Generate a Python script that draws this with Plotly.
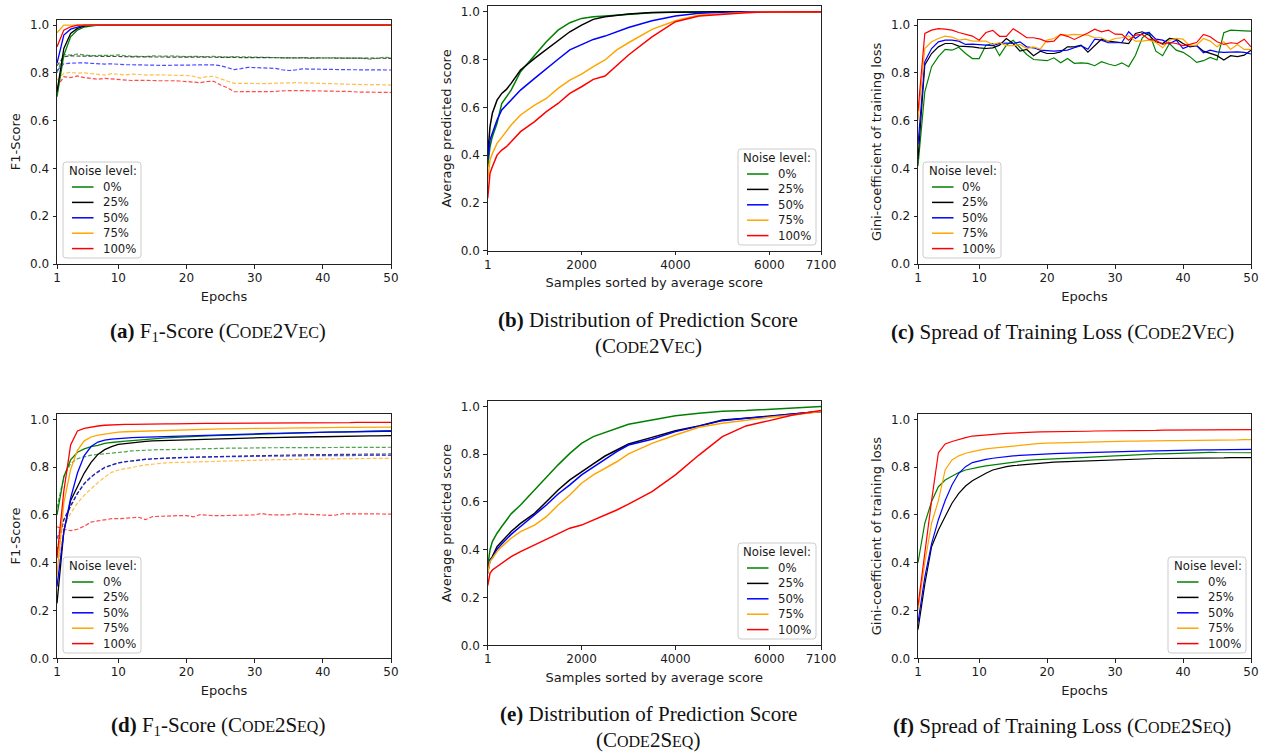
import plotly.graph_objects as go

# ---------------- data ----------------
NOISE_LEVELS = ["0%", "25%", "50%", "75%", "100%"]
EPOCHS = list(range(1, 51))
SAMPLES = [1, 50, 100, 200, 300, 400, 500, 700, 1000, 1250, 1500, 1750, 2000, 2250,
           2500, 2750, 3000, 3500, 4000, 4500, 5000, 5500, 6000, 6500, 7100]
EPOCH_TICKS = [1, 10, 20, 30, 40, 50]
SAMPLE_TICKS = [1, 2000, 4000, 6000, 7100]
Y_TICKS = [0.0, 0.2, 0.4, 0.6, 0.8, 1.0]

# (a) F1-score Code2Vec: training (solid) and validation (dashed)
c2v_f1_train_0 = [0.70, 0.874, 0.951, 0.979, 0.992, 0.997, 1.0, 1.0, 1.0, 1.0,
                  1.0, 1.0, 1.0, 1.0, 1.0, 1.0, 1.0, 1.0, 1.0, 1.0,
                  1.0, 1.0, 1.0, 1.0, 1.0, 1.0, 1.0, 1.0, 1.0, 1.0,
                  1.0, 1.0, 1.0, 1.0, 1.0, 1.0, 1.0, 1.0, 1.0, 1.0,
                  1.0, 1.0, 1.0, 1.0, 1.0, 1.0, 1.0, 1.0, 1.0, 1.0]
c2v_f1_train_25 = [0.72, 0.902, 0.965, 0.986, 0.996, 1.0, 1.0, 1.0, 1.0, 1.0,
                   1.0, 1.0, 1.0, 1.0, 1.0, 1.0, 1.0, 1.0, 1.0, 1.0,
                   1.0, 1.0, 1.0, 1.0, 1.0, 1.0, 1.0, 1.0, 1.0, 1.0,
                   1.0, 1.0, 1.0, 1.0, 1.0, 1.0, 1.0, 1.0, 1.0, 1.0,
                   1.0, 1.0, 1.0, 1.0, 1.0, 1.0, 1.0, 1.0, 1.0, 1.0]
c2v_f1_train_50 = [0.84, 0.958, 0.983, 0.993, 1.0, 1.0, 1.0, 1.0, 1.0, 1.0,
                   1.0, 1.0, 1.0, 1.0, 1.0, 1.0, 1.0, 1.0, 1.0, 1.0,
                   1.0, 1.0, 1.0, 1.0, 1.0, 1.0, 1.0, 1.0, 1.0, 1.0,
                   1.0, 1.0, 1.0, 1.0, 1.0, 1.0, 1.0, 1.0, 1.0, 1.0,
                   1.0, 1.0, 1.0, 1.0, 1.0, 1.0, 1.0, 1.0, 1.0, 1.0]
c2v_f1_train_75 = [0.968, 1.0, 1.0, 1.0, 1.0, 1.0, 1.0, 1.0, 1.0, 1.0,
                   1.0, 1.0, 1.0, 1.0, 1.0, 1.0, 1.0, 1.0, 1.0, 1.0,
                   1.0, 1.0, 1.0, 1.0, 1.0, 1.0, 1.0, 1.0, 1.0, 1.0,
                   1.0, 1.0, 1.0, 1.0, 1.0, 1.0, 1.0, 1.0, 1.0, 1.0,
                   1.0, 1.0, 1.0, 1.0, 1.0, 1.0, 1.0, 1.0, 1.0, 1.0]
c2v_f1_train_100 = [0.909, 0.979, 0.993, 1.0, 1.0, 1.0, 1.0, 1.0, 1.0, 1.0,
                    1.0, 1.0, 1.0, 1.0, 1.0, 1.0, 1.0, 1.0, 1.0, 1.0,
                    1.0, 1.0, 1.0, 1.0, 1.0, 1.0, 1.0, 1.0, 1.0, 1.0,
                    1.0, 1.0, 1.0, 1.0, 1.0, 1.0, 1.0, 1.0, 1.0, 1.0,
                    1.0, 1.0, 1.0, 1.0, 1.0, 1.0, 1.0, 1.0, 1.0, 1.0]
c2v_f1_val_0 = [0.80, 0.877, 0.874, 0.879, 0.875, 0.872, 0.873, 0.872, 0.873, 0.875,
                0.871, 0.869, 0.870, 0.868, 0.871, 0.869, 0.870, 0.871, 0.869, 0.868,
                0.869, 0.867, 0.868, 0.869, 0.867, 0.866, 0.868, 0.867, 0.866, 0.867,
                0.865, 0.866, 0.864, 0.862, 0.863, 0.862, 0.864, 0.861, 0.862, 0.863,
                0.862, 0.863, 0.862, 0.863, 0.862, 0.861, 0.857, 0.862, 0.865, 0.864]
c2v_f1_val_25 = [0.83, 0.868, 0.871, 0.870, 0.869, 0.869, 0.870, 0.869, 0.869, 0.870,
                 0.868, 0.867, 0.867, 0.867, 0.868, 0.867, 0.867, 0.867, 0.866, 0.866,
                 0.866, 0.866, 0.866, 0.866, 0.865, 0.865, 0.865, 0.864, 0.864, 0.864,
                 0.863, 0.863, 0.861, 0.862, 0.862, 0.862, 0.862, 0.862, 0.861, 0.861,
                 0.861, 0.861, 0.861, 0.861, 0.861, 0.861, 0.861, 0.861, 0.861, 0.861]
c2v_f1_val_50 = [0.81, 0.838, 0.841, 0.843, 0.842, 0.840, 0.838, 0.837, 0.838, 0.835,
                 0.834, 0.834, 0.833, 0.832, 0.833, 0.832, 0.831, 0.832, 0.832, 0.831,
                 0.831, 0.831, 0.832, 0.834, 0.830, 0.821, 0.814, 0.818, 0.823, 0.822,
                 0.822, 0.821, 0.819, 0.813, 0.810, 0.812, 0.817, 0.816, 0.815, 0.814,
                 0.814, 0.814, 0.813, 0.813, 0.813, 0.813, 0.812, 0.812, 0.812, 0.812]
c2v_f1_val_75 = [0.77, 0.798, 0.802, 0.799, 0.800, 0.797, 0.794, 0.791, 0.797, 0.795,
                 0.791, 0.795, 0.792, 0.791, 0.792, 0.790, 0.791, 0.790, 0.790, 0.789,
                 0.786, 0.778, 0.784, 0.786, 0.775, 0.764, 0.756, 0.756, 0.755, 0.756,
                 0.756, 0.755, 0.757, 0.759, 0.758, 0.759, 0.758, 0.756, 0.756, 0.755,
                 0.755, 0.753, 0.752, 0.752, 0.751, 0.751, 0.750, 0.751, 0.750, 0.749]
c2v_f1_val_100 = [0.74, 0.784, 0.780, 0.787, 0.780, 0.775, 0.773, 0.777, 0.774, 0.774,
                  0.770, 0.768, 0.769, 0.767, 0.768, 0.767, 0.768, 0.767, 0.766, 0.764,
                  0.763, 0.759, 0.764, 0.765, 0.749, 0.738, 0.721, 0.721, 0.721, 0.722,
                  0.721, 0.722, 0.722, 0.725, 0.726, 0.725, 0.726, 0.725, 0.725, 0.724,
                  0.724, 0.723, 0.722, 0.722, 0.720, 0.720, 0.720, 0.719, 0.719, 0.718]

# (b) distribution of prediction score, Code2Vec
c2v_dist_0 = [0.35, 0.435, 0.477, 0.533, 0.616, 0.644, 0.672, 0.749, 0.819, 0.874, 0.923, 0.954,
              0.972, 0.979, 0.982, 0.986, 0.990, 0.996, 0.999, 1.0, 1.0, 1.0, 1.0, 1.0, 1.0]
c2v_dist_25 = [0.40, 0.519, 0.575, 0.630, 0.658, 0.675, 0.700, 0.756, 0.805, 0.842, 0.881, 0.916,
               0.944, 0.968, 0.979, 0.985, 0.990, 0.997, 0.999, 1.0, 1.0, 1.0, 1.0, 1.0, 1.0]
c2v_dist_50 = [0.38, 0.463, 0.491, 0.547, 0.589, 0.609, 0.628, 0.672, 0.721, 0.763, 0.801, 0.840,
               0.861, 0.884, 0.898, 0.916, 0.934, 0.962, 0.982, 0.993, 0.997, 1.0, 1.0, 1.0, 1.0]
c2v_dist_75 = [0.30, 0.379, 0.407, 0.449, 0.474, 0.498, 0.526, 0.568, 0.609, 0.637, 0.679, 0.714,
               0.739, 0.770, 0.798, 0.840, 0.870, 0.926, 0.962, 0.986, 0.993, 0.997, 0.999, 1.0, 1.0]
c2v_dist_100 = [0.22, 0.324, 0.351, 0.400, 0.421, 0.435, 0.456, 0.498, 0.540, 0.582, 0.616, 0.658,
                0.686, 0.717, 0.731, 0.777, 0.819, 0.895, 0.958, 0.982, 0.990, 0.996, 0.999, 1.0, 1.0]

# (c) Gini coefficient of training loss, Code2Vec
c2v_gini_0 = [0.41, 0.721, 0.826, 0.868, 0.898, 0.895, 0.907, 0.881, 0.860, 0.860,
              0.916, 0.923, 0.872, 0.916, 0.936, 0.905, 0.877, 0.856, 0.854, 0.851,
              0.863, 0.842, 0.860, 0.840, 0.842, 0.840, 0.830, 0.847, 0.837, 0.830,
              0.842, 0.826, 0.874, 0.947, 0.969, 0.891, 0.872, 0.923, 0.895, 0.886,
              0.868, 0.844, 0.851, 0.865, 0.854, 0.968, 0.979, 0.976, 0.976, 0.975]
c2v_gini_25 = [0.44, 0.833, 0.881, 0.909, 0.923, 0.923, 0.912, 0.912, 0.909, 0.905,
               0.902, 0.905, 0.916, 0.944, 0.923, 0.891, 0.898, 0.872, 0.891, 0.881,
               0.881, 0.888, 0.909, 0.909, 0.916, 0.887, 0.914, 0.941, 0.933, 0.930,
               0.927, 0.923, 0.965, 0.972, 0.958, 0.930, 0.923, 0.944, 0.941, 0.923,
               0.909, 0.914, 0.891, 0.881, 0.872, 0.854, 0.872, 0.868, 0.874, 0.895]
c2v_gini_50 = [0.50, 0.847, 0.902, 0.930, 0.937, 0.937, 0.933, 0.919, 0.920, 0.919,
               0.916, 0.914, 0.923, 0.925, 0.923, 0.930, 0.909, 0.905, 0.895, 0.893,
               0.891, 0.893, 0.895, 0.905, 0.914, 0.899, 0.941, 0.937, 0.926, 0.926,
               0.927, 0.972, 0.944, 0.965, 0.969, 0.941, 0.937, 0.923, 0.937, 0.902,
               0.914, 0.914, 0.884, 0.895, 0.888, 0.886, 0.888, 0.888, 0.886, 0.879]
c2v_gini_75 = [0.60, 0.902, 0.930, 0.944, 0.954, 0.950, 0.937, 0.941, 0.933, 0.933,
               0.933, 0.919, 0.927, 0.914, 0.914, 0.919, 0.902, 0.909, 0.900, 0.937,
               0.944, 0.961, 0.958, 0.961, 0.961, 0.958, 0.947, 0.947, 0.933, 0.944,
               0.947, 0.955, 0.933, 0.933, 0.937, 0.927, 0.905, 0.937, 0.944, 0.941,
               0.914, 0.916, 0.944, 0.933, 0.909, 0.930, 0.898, 0.919, 0.898, 0.898]
c2v_gini_100 = [0.64, 0.965, 0.979, 0.985, 0.983, 0.979, 0.969, 0.961, 0.954, 0.937,
                0.969, 0.978, 0.953, 0.953, 0.985, 0.967, 0.947, 0.947, 0.941, 0.930,
                0.933, 0.961, 0.953, 0.940, 0.953, 0.967, 0.983, 0.972, 0.979, 0.962,
                0.961, 0.937, 0.958, 0.961, 0.940, 0.937, 0.919, 0.927, 0.923, 0.914,
                0.919, 0.927, 0.961, 0.951, 0.930, 0.919, 0.926, 0.923, 0.941, 0.909]

# (d) F1-score Code2Seq
c2s_f1_train_0 = [0.60, 0.760, 0.830, 0.862, 0.876, 0.886, 0.891, 0.899, 0.903, 0.907,
                  0.909, 0.911, 0.914, 0.916, 0.918, 0.920, 0.922, 0.924, 0.926, 0.928,
                  0.929, 0.930, 0.931, 0.932, 0.933, 0.934, 0.935, 0.936, 0.937, 0.938,
                  0.939, 0.940, 0.941, 0.941, 0.942, 0.943, 0.944, 0.944, 0.945, 0.946,
                  0.946, 0.947, 0.947, 0.948, 0.949, 0.949, 0.950, 0.951, 0.951, 0.952]
c2s_f1_train_25 = [0.23, 0.530, 0.660, 0.720, 0.775, 0.820, 0.853, 0.873, 0.886, 0.895,
                   0.899, 0.903, 0.906, 0.908, 0.910, 0.911, 0.912, 0.913, 0.914, 0.915,
                   0.916, 0.917, 0.917, 0.918, 0.919, 0.919, 0.920, 0.921, 0.921, 0.922,
                   0.923, 0.923, 0.924, 0.924, 0.925, 0.926, 0.926, 0.926, 0.927, 0.927,
                   0.928, 0.928, 0.929, 0.929, 0.930, 0.930, 0.931, 0.931, 0.932, 0.932]
c2s_f1_train_50 = [0.30, 0.530, 0.670, 0.775, 0.848, 0.886, 0.905, 0.913, 0.917, 0.920,
                   0.921, 0.923, 0.924, 0.925, 0.927, 0.928, 0.929, 0.930, 0.931, 0.932,
                   0.933, 0.934, 0.934, 0.935, 0.936, 0.937, 0.937, 0.938, 0.939, 0.940,
                   0.940, 0.941, 0.941, 0.942, 0.943, 0.943, 0.944, 0.944, 0.945, 0.945,
                   0.946, 0.946, 0.947, 0.947, 0.948, 0.948, 0.949, 0.949, 0.950, 0.950]
c2s_f1_train_75 = [0.35, 0.650, 0.790, 0.870, 0.910, 0.926, 0.934, 0.939, 0.943, 0.946,
                   0.948, 0.949, 0.951, 0.952, 0.953, 0.954, 0.955, 0.956, 0.956, 0.957,
                   0.958, 0.958, 0.959, 0.959, 0.960, 0.960, 0.961, 0.961, 0.961, 0.962,
                   0.962, 0.962, 0.963, 0.963, 0.963, 0.964, 0.964, 0.964, 0.965, 0.965,
                   0.965, 0.965, 0.966, 0.966, 0.966, 0.966, 0.967, 0.967, 0.967, 0.967]
c2s_f1_train_100 = [0.42, 0.700, 0.893, 0.951, 0.962, 0.968, 0.972, 0.975, 0.977, 0.978,
                    0.979, 0.979, 0.980, 0.980, 0.980, 0.981, 0.981, 0.981, 0.982, 0.982,
                    0.982, 0.982, 0.983, 0.983, 0.983, 0.983, 0.984, 0.984, 0.984, 0.984,
                    0.984, 0.985, 0.985, 0.985, 0.985, 0.985, 0.985, 0.986, 0.986, 0.986,
                    0.986, 0.986, 0.986, 0.986, 0.987, 0.987, 0.987, 0.987, 0.987, 0.987]
c2s_f1_val_0 = [0.63, 0.760, 0.815, 0.835, 0.843, 0.850, 0.853, 0.855, 0.857, 0.860,
                0.864, 0.868, 0.870, 0.872, 0.872, 0.873, 0.873, 0.874, 0.874, 0.874,
                0.875, 0.875, 0.876, 0.877, 0.878, 0.879, 0.879, 0.880, 0.880, 0.880,
                0.881, 0.881, 0.881, 0.881, 0.882, 0.882, 0.882, 0.882, 0.882, 0.882,
                0.883, 0.883, 0.883, 0.883, 0.883, 0.883, 0.883, 0.883, 0.883, 0.883]
c2s_f1_val_25 = [0.45, 0.580, 0.635, 0.690, 0.732, 0.760, 0.781, 0.799, 0.809, 0.818,
                 0.823, 0.827, 0.830, 0.833, 0.835, 0.837, 0.838, 0.839, 0.840, 0.841,
                 0.842, 0.843, 0.844, 0.844, 0.845, 0.846, 0.846, 0.847, 0.847, 0.848,
                 0.848, 0.849, 0.849, 0.850, 0.850, 0.851, 0.851, 0.852, 0.852, 0.852,
                 0.853, 0.853, 0.853, 0.854, 0.854, 0.854, 0.854, 0.855, 0.855, 0.855]
c2s_f1_val_50 = [0.50, 0.580, 0.640, 0.690, 0.730, 0.758, 0.779, 0.797, 0.808, 0.817,
                 0.822, 0.826, 0.829, 0.832, 0.834, 0.836, 0.837, 0.838, 0.839, 0.840,
                 0.841, 0.841, 0.842, 0.842, 0.843, 0.843, 0.844, 0.844, 0.845, 0.845,
                 0.845, 0.846, 0.846, 0.846, 0.847, 0.847, 0.847, 0.847, 0.848, 0.848,
                 0.848, 0.848, 0.848, 0.849, 0.849, 0.849, 0.849, 0.849, 0.849, 0.849]
c2s_f1_val_75 = [0.35, 0.550, 0.607, 0.649, 0.683, 0.711, 0.735, 0.758, 0.778, 0.788,
                 0.794, 0.799, 0.804, 0.809, 0.812, 0.816, 0.818, 0.819, 0.820, 0.821,
                 0.822, 0.822, 0.823, 0.823, 0.824, 0.825, 0.826, 0.827, 0.828, 0.829,
                 0.830, 0.830, 0.831, 0.831, 0.832, 0.832, 0.833, 0.833, 0.834, 0.834,
                 0.834, 0.835, 0.835, 0.835, 0.836, 0.836, 0.836, 0.837, 0.837, 0.837]
c2s_f1_val_100 = [0.55, 0.540, 0.534, 0.540, 0.553, 0.570, 0.575, 0.580, 0.584, 0.584,
                  0.585, 0.586, 0.590, 0.580, 0.593, 0.594, 0.596, 0.598, 0.597, 0.597,
                  0.592, 0.601, 0.598, 0.597, 0.597, 0.598, 0.597, 0.598, 0.599, 0.600,
                  0.606, 0.601, 0.600, 0.601, 0.600, 0.605, 0.603, 0.602, 0.601, 0.600,
                  0.598, 0.600, 0.605, 0.604, 0.603, 0.604, 0.604, 0.604, 0.604, 0.603]

# (e) distribution of prediction score, Code2Seq
c2s_dist_0 = [0.33, 0.399, 0.434, 0.469, 0.497, 0.524, 0.550, 0.587, 0.650, 0.706, 0.755, 0.803,
              0.845, 0.873, 0.890, 0.908, 0.925, 0.943, 0.960, 0.971, 0.979, 0.982, 0.987, 0.994, 0.999]
c2s_dist_25 = [0.31, 0.357, 0.371, 0.413, 0.434, 0.455, 0.476, 0.510, 0.552, 0.601, 0.650, 0.692,
               0.727, 0.759, 0.792, 0.817, 0.842, 0.870, 0.898, 0.918, 0.943, 0.950, 0.960, 0.968, 0.978]
c2s_dist_50 = [0.30, 0.357, 0.364, 0.402, 0.424, 0.444, 0.464, 0.497, 0.545, 0.587, 0.633, 0.671,
               0.713, 0.745, 0.775, 0.810, 0.838, 0.862, 0.894, 0.918, 0.940, 0.950, 0.957, 0.968, 0.978]
c2s_dist_75 = [0.30, 0.350, 0.364, 0.392, 0.413, 0.430, 0.448, 0.476, 0.503, 0.538, 0.587, 0.629,
               0.678, 0.713, 0.741, 0.768, 0.801, 0.845, 0.880, 0.912, 0.929, 0.943, 0.954, 0.964, 0.978]
c2s_dist_100 = [0.25, 0.301, 0.315, 0.329, 0.343, 0.357, 0.371, 0.392, 0.420, 0.444, 0.469, 0.490,
                0.503, 0.524, 0.545, 0.566, 0.591, 0.643, 0.713, 0.796, 0.873, 0.918, 0.940, 0.964, 0.982]

# (f) Gini coefficient of training loss, Code2Seq
c2s_gini_0 = [0.40, 0.565, 0.656, 0.718, 0.746, 0.763, 0.777, 0.788, 0.795, 0.800,
              0.805, 0.809, 0.812, 0.819, 0.822, 0.826, 0.828, 0.830, 0.832, 0.833,
              0.835, 0.836, 0.838, 0.839, 0.840, 0.842, 0.843, 0.844, 0.846, 0.847,
              0.848, 0.850, 0.851, 0.852, 0.854, 0.855, 0.855, 0.856, 0.857, 0.858,
              0.859, 0.861, 0.863, 0.862, 0.861, 0.861, 0.860, 0.860, 0.860, 0.860]
c2s_gini_25 = [0.12, 0.310, 0.467, 0.537, 0.593, 0.649, 0.690, 0.721, 0.743, 0.760,
               0.774, 0.788, 0.796, 0.802, 0.806, 0.809, 0.812, 0.815, 0.817, 0.819,
               0.821, 0.822, 0.823, 0.825, 0.826, 0.827, 0.828, 0.830, 0.831, 0.833,
               0.833, 0.834, 0.834, 0.835, 0.835, 0.836, 0.836, 0.836, 0.837, 0.837,
               0.838, 0.838, 0.838, 0.839, 0.839, 0.839, 0.840, 0.840, 0.840, 0.840]
c2s_gini_50 = [0.15, 0.340, 0.480, 0.580, 0.660, 0.725, 0.774, 0.802, 0.819, 0.827,
               0.832, 0.837, 0.841, 0.844, 0.847, 0.849, 0.851, 0.852, 0.854, 0.855,
               0.856, 0.857, 0.858, 0.860, 0.861, 0.862, 0.863, 0.863, 0.864, 0.865,
               0.865, 0.866, 0.867, 0.867, 0.868, 0.868, 0.869, 0.869, 0.870, 0.870,
               0.871, 0.871, 0.872, 0.872, 0.872, 0.873, 0.873, 0.873, 0.874, 0.874]
c2s_gini_75 = [0.20, 0.400, 0.565, 0.660, 0.788, 0.830, 0.847, 0.858, 0.865, 0.872,
               0.876, 0.879, 0.883, 0.886, 0.888, 0.891, 0.894, 0.898, 0.899, 0.900,
               0.901, 0.902, 0.903, 0.904, 0.905, 0.906, 0.907, 0.907, 0.908, 0.908,
               0.909, 0.909, 0.909, 0.910, 0.910, 0.910, 0.911, 0.911, 0.911, 0.911,
               0.912, 0.912, 0.913, 0.913, 0.913, 0.914, 0.914, 0.914, 0.915, 0.915]
c2s_gini_100 = [0.22, 0.450, 0.660, 0.860, 0.897, 0.907, 0.916, 0.923, 0.930, 0.933,
                0.935, 0.937, 0.939, 0.941, 0.943, 0.944, 0.945, 0.946, 0.947, 0.947,
                0.948, 0.948, 0.949, 0.949, 0.950, 0.950, 0.951, 0.951, 0.952, 0.953,
                0.953, 0.953, 0.954, 0.954, 0.954, 0.954, 0.955, 0.955, 0.955, 0.955,
                0.956, 0.956, 0.956, 0.956, 0.956, 0.957, 0.957, 0.957, 0.957, 0.957]

# ---------------- styling ----------------
W, H = 1265, 754
COLORS = ["#008000", "#000000", "#0000ff", "#ffa500", "#ff0000"]
SANS = "DejaVu Sans"
SERIF = "Liberation Serif"
TXT = "#1a1a1a"

# panel boxes in pixels: (left, right, top, bottom); bottom = y 0.0, top = y 1.023
PANELS = [
    dict(box=(57, 391, 19.6, 264.0), x=EPOCHS, xt=EPOCH_TICKS, xr=[1, 50],
         xlab="Epochs", ylab="F1-Score",
         solid=[c2v_f1_train_0, c2v_f1_train_25, c2v_f1_train_50, c2v_f1_train_75, c2v_f1_train_100],
         dashed=[c2v_f1_val_0, c2v_f1_val_25, c2v_f1_val_50, c2v_f1_val_75, c2v_f1_val_100],
         leg=(63, 162), lw=1.3),
    dict(box=(487.7, 821, 6.2, 250.7), x=SAMPLES, xt=SAMPLE_TICKS, xr=[1, 7100],
         xlab="Samples sorted by average score", ylab="Average predicted score",
         solid=[c2v_dist_0, c2v_dist_25, c2v_dist_50, c2v_dist_75, c2v_dist_100],
         dashed=None, leg=(738, 149), lw=1.5),
    dict(box=(918, 1251, 19.6, 264.0), x=EPOCHS, xt=EPOCH_TICKS, xr=[1, 50],
         xlab="Epochs", ylab="Gini-coefficient of training loss",
         solid=[c2v_gini_0, c2v_gini_25, c2v_gini_50, c2v_gini_75, c2v_gini_100],
         dashed=None, leg=(923, 162), lw=1.2),
    dict(box=(57, 391, 413.8, 658.3), x=EPOCHS, xt=EPOCH_TICKS, xr=[1, 50],
         xlab="Epochs", ylab="F1-Score",
         solid=[c2s_f1_train_0, c2s_f1_train_25, c2s_f1_train_50, c2s_f1_train_75, c2s_f1_train_100],
         dashed=[c2s_f1_val_0, c2s_f1_val_25, c2s_f1_val_50, c2s_f1_val_75, c2s_f1_val_100],
         leg=(63, 557), lw=1.3),
    dict(box=(487.7, 821, 400.8, 645.3), x=SAMPLES, xt=SAMPLE_TICKS, xr=[1, 7100],
         xlab="Samples sorted by average score", ylab="Average predicted score",
         solid=[c2s_dist_0, c2s_dist_25, c2s_dist_50, c2s_dist_75, c2s_dist_100],
         dashed=None, leg=(738, 543), lw=1.5),
    dict(box=(918, 1251, 413.8, 658.3), x=EPOCHS, xt=EPOCH_TICKS, xr=[1, 50],
         xlab="Epochs", ylab="Gini-coefficient of training loss",
         solid=[c2s_gini_0, c2s_gini_25, c2s_gini_50, c2s_gini_75, c2s_gini_100],
         dashed=None, leg=(1168, 557), lw=1.2),
]

LEG_W, LEG_H = 78, 96


def px(x):
    return x / W


def py(y):
    return 1 - y / H


fig = go.Figure()
layout = dict(width=W, height=H, margin=dict(l=0, r=0, t=0, b=0, autoexpand=False),
              paper_bgcolor="white", plot_bgcolor="white", showlegend=False,
              font=dict(family=SANS, color=TXT, size=12))
shapes = []
annotations = []

for i, p in enumerate(PANELS):
    k = i + 1
    sfx = "" if k == 1 else str(k)
    l, r, t, b = p["box"]
    xa = dict(domain=[px(l), px(r)], anchor="y" + sfx, range=p["xr"], tickmode="array",
              tickvals=p["xt"], ticktext=[str(v) for v in p["xt"]], showgrid=False,
              zeroline=False, showline=True, mirror=True, linecolor="#222", linewidth=1,
              ticks="outside", ticklen=3.5, tickwidth=1, tickcolor="#222", ticklabelstandoff=-1,
              tickfont=dict(family=SANS, size=12, color=TXT),
              title=dict(text=p["xlab"], font=dict(family=SANS, size=13, color=TXT), standoff=7))
    ya = dict(domain=[py(b), py(t)], anchor="x" + sfx, range=[0, 1.023], tickmode="array",
              tickvals=Y_TICKS, ticktext=["%.1f" % v for v in Y_TICKS], showgrid=False,
              zeroline=False, showline=True, mirror=True, linecolor="#222", linewidth=1,
              ticks="outside", ticklen=3.5, tickwidth=1, tickcolor="#222", ticklabelstandoff=1,
              tickfont=dict(family=SANS, size=12, color=TXT),
              title=dict(text=p["ylab"], font=dict(family=SANS, size=13, color=TXT), standoff=6))
    layout["xaxis" + sfx] = xa
    layout["yaxis" + sfx] = ya

    if p["dashed"] is not None:
        for lvl, ys, c in zip(NOISE_LEVELS, p["dashed"], COLORS):
            fig.add_trace(go.Scatter(x=p["x"], y=ys, mode="lines", name=lvl + " (validation)",
                                     line=dict(color=c, width=1.2, dash="4px,2px"), opacity=0.7,
                                     xaxis="x" + sfx, yaxis="y" + sfx))
    for lvl, ys, c in zip(NOISE_LEVELS, p["solid"], COLORS):
        fig.add_trace(go.Scatter(x=p["x"], y=ys, mode="lines", name=lvl,
                                 line=dict(color=c, width=p["lw"]),
                                 xaxis="x" + sfx, yaxis="y" + sfx))

    # matplotlib-like legend box
    bx, by = p["leg"]
    x0, x1, y0, y1 = bx, bx + LEG_W, by, by + LEG_H
    rr = 3
    path = ("M {a},{b} L {c},{b} Q {d},{b} {d},{e} L {d},{f} Q {d},{g} {c},{g} "
            "L {a},{g} Q {h},{g} {h},{f} L {h},{e} Q {h},{b} {a},{b} Z").format(
        a=px(x0 + rr), b=py(y0), c=px(x1 - rr), d=px(x1), e=py(y0 + rr), f=py(y1 - rr),
        g=py(y1), h=px(x0))
    shapes.append(dict(type="path", path=path, xref="paper", yref="paper", layer="above",
                       fillcolor="rgba(255,255,255,0.85)", line=dict(color="#cccccc", width=1)))
    annotations.append(dict(x=px(bx + 3.5), y=py(by + 8.6), xref="paper", yref="paper",
                            text="Noise level:", showarrow=False, xanchor="left", yanchor="middle",
                            font=dict(family=SANS, size=11.7, color=TXT)))
    for j, (lvl, c) in enumerate(zip(NOISE_LEVELS, COLORS)):
        yy = by + 25 + 15.4 * j
        shapes.append(dict(type="line", xref="paper", yref="paper", layer="above",
                           x0=px(bx + 9), x1=px(bx + 30.5), y0=py(yy), y1=py(yy),
                           line=dict(color=c, width=1.5)))
        annotations.append(dict(x=px(bx + 37.5), y=py(yy), xref="paper", yref="paper",
                                text=lvl, showarrow=False, xanchor="left", yanchor="middle",
                                font=dict(family=SANS, size=11.7, color=TXT)))


# ---------------- captions ----------------
def sc(big, small):
    return big + "<span style='font-size:16px'>" + small + "</span>"


C2V = sc("C", "ODE") + "2" + sc("V", "EC")
C2S = sc("C", "ODE") + "2" + sc("S", "EQ")
CAPTIONS = [
    (218, 332, "<b>(a)</b> F<sub>1</sub>-Score (" + C2V + ")"),
    (648, 320, "<b>(b)</b> Distribution of Prediction Score"),
    (648, 346, "(" + C2V + ")"),
    (1062, 332, "<b>(c)</b> Spread of Training Loss (" + C2V + ")"),
    (218, 726, "<b>(d)</b> F<sub>1</sub>-Score (" + C2S + ")"),
    (648, 714, "<b>(e)</b> Distribution of Prediction Score"),
    (648, 740, "(" + C2S + ")"),
    (1062, 726, "<b>(f)</b> Spread of Training Loss (" + C2S + ")"),
]
for cx, cy, txt in CAPTIONS:
    annotations.append(dict(x=px(cx), y=py(cy), xref="paper", yref="paper", text=txt,
                            showarrow=False, xanchor="center", yanchor="middle",
                            font=dict(family=SERIF, size=21, color="#111")))

layout["shapes"] = shapes
layout["annotations"] = annotations
fig.update_layout(**layout)
fig.write_html("out.html",
               config={"displayModeBar": False},
               post_script="document.body.style.margin='0';document.body.style.padding='0';"
                           "document.documentElement.style.overflow='hidden';"
                           "document.body.style.overflow='hidden';")
